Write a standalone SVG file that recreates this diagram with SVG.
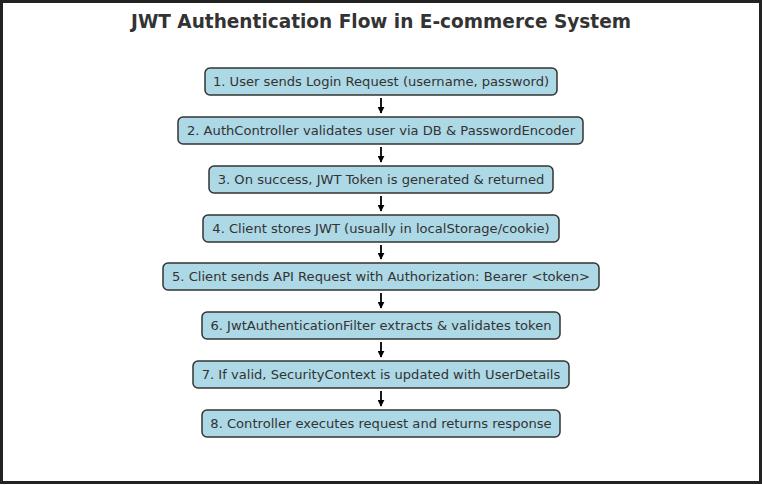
<svg xmlns="http://www.w3.org/2000/svg" width="762" height="485" viewBox="0 0 762 485">
<defs>
<style>
.box rect{fill:#add8e6;stroke:#333;stroke-width:1.5}
.box text{font-family:"DejaVu Sans",sans-serif;font-size:13.1px;fill:#333;text-anchor:middle;dominant-baseline:central}
.title{font-family:"DejaVu Sans",sans-serif;font-size:19.5px;font-weight:bold;fill:#333;text-anchor:middle}
#connectors line{stroke:#000;stroke-width:1.8;marker-end:url(#ah)}
</style>
<marker id="ah" viewBox="0 0 10 10" refX="9" refY="5" markerWidth="7" markerHeight="7" orient="auto" markerUnits="userSpaceOnUse">
<path d="M0,0 L10,5 L0,10 z" fill="#000"/>
</marker>
</defs>
<rect x="0" y="0" width="762" height="485" fill="#fff"/>
<rect x="1.5" y="1.5" width="759" height="481" fill="none" stroke="#222" stroke-width="3"/>
<text class="title" x="381" y="27.5" textLength="500" lengthAdjust="spacingAndGlyphs">JWT Authentication Flow in E-commerce System</text>
<g id="connectors">
<line x1="381" y1="98" x2="381" y2="113"/>
<line x1="381" y1="147" x2="381" y2="162"/>
<line x1="381" y1="196" x2="381" y2="211"/>
<line x1="381" y1="245" x2="381" y2="259"/>
<line x1="381" y1="293" x2="381" y2="308"/>
<line x1="381" y1="342" x2="381" y2="357"/>
<line x1="381" y1="391" x2="381" y2="406"/>
</g>
<g id="n1" class="box"><rect x="205" y="68" width="352" height="27" rx="5"/><text x="381" y="81.5">1. User sends Login Request (username, password)</text></g>
<g id="n2" class="box"><rect x="178" y="117" width="405" height="27" rx="5"/><text x="381" y="130.5">2. AuthController validates user via DB &amp; PasswordEncoder</text></g>
<g id="n3" class="box"><rect x="209" y="166" width="344" height="27" rx="5"/><text x="381" y="179.5">3. On success, JWT Token is generated &amp; returned</text></g>
<g id="n4" class="box"><rect x="203" y="215" width="356" height="27" rx="5"/><text x="381" y="228.5">4. Client stores JWT (usually in localStorage/cookie)</text></g>
<g id="n5" class="box"><rect x="163" y="263" width="436" height="27" rx="5"/><text x="381" y="276.5">5. Client sends API Request with Authorization: Bearer &lt;token&gt;</text></g>
<g id="n6" class="box"><rect x="202" y="312" width="358" height="27" rx="5"/><text x="381" y="325.5">6. JwtAuthenticationFilter extracts &amp; validates token</text></g>
<g id="n7" class="box"><rect x="193" y="361" width="376" height="27" rx="5"/><text x="381" y="374.5">7. If valid, SecurityContext is updated with UserDetails</text></g>
<g id="n8" class="box"><rect x="202" y="410" width="358" height="27" rx="5"/><text x="381" y="423.5">8. Controller executes request and returns response</text></g>
</svg>
